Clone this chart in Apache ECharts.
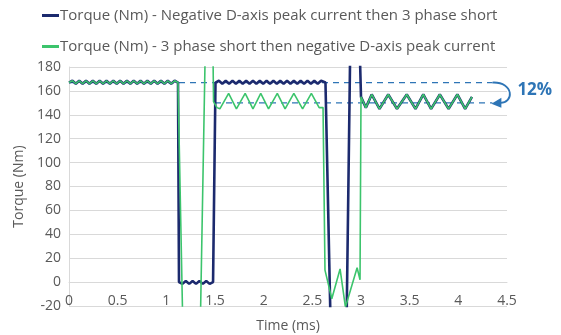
<!DOCTYPE html>
<html lang="en">
<head>
    <meta charset="UTF-8">
    <title>Torque vs time</title>
    <style>
        html, body { margin: 0; padding: 0; background: #fff; }
        #chart { width: 561px; height: 335px; }
    </style>
</head>
<body>
<div id="chart"></div>
<script src="https://cdn.jsdelivr.net/npm/echarts@6/dist/echarts.min.js"></script>
<script>
    // ---- data: [time (ms), torque (Nm)] ----
    var nameNavy = 'Torque (Nm) - Negative D-axis peak current then 3 phase short';
    var nameGreen = 'Torque (Nm) - 3 phase short then negative D-axis peak current';

    // both traces sit on top of each other before the fault
    var startCommon = [[0, 167], [0.035, 168.5], [0.07, 166], [0.105, 168.5], [0.14, 166], [0.175, 168.5], [0.21, 166],
        [0.245, 168.5], [0.28, 166], [0.315, 168.5], [0.35, 166], [0.385, 168.5], [0.42, 166], [0.455, 168.5], [0.49, 166],
        [0.525, 168.5], [0.56, 166], [0.595, 168.5], [0.63, 166], [0.665, 168.5], [0.7, 166], [0.735, 168.5], [0.77, 166],
        [0.805, 168.5], [0.84, 166], [0.875, 168.5], [0.91, 166], [0.945, 168.5], [0.98, 166], [1.015, 168.5], [1.05, 166],
        [1.085, 168.5], [1.12, 167]];

    // and again after 3 ms
    var endCommon = [[3.0, 155], [3.05, 146], [3.11, 157], [3.19, 145], [3.28, 157], [3.37, 145], [3.47, 157], [3.56, 145],
        [3.64, 157], [3.72, 145], [3.81, 157], [3.90, 145], [3.99, 157], [4.07, 145], [4.14, 155]];

    var navyMiddle = [[1.13, 0], [1.165, -1.5], [1.2, 1], [1.235, -1.5], [1.27, 1], [1.305, -1.5], [1.34, 1], [1.375, -1.5],
        [1.41, 1], [1.445, -1.5], [1.48, 0],
        [1.505, 167], [1.54, 168.5], [1.575, 166], [1.61, 168.5], [1.645, 166], [1.68, 168.5], [1.715, 166], [1.75, 168.5],
        [1.785, 166], [1.82, 168.5], [1.855, 166], [1.89, 168.5], [1.925, 166], [1.96, 168.5], [1.995, 166], [2.03, 168.5],
        [2.065, 166], [2.1, 168.5], [2.135, 166], [2.17, 168.5], [2.205, 166], [2.24, 168.5], [2.275, 166], [2.31, 168.5],
        [2.345, 166], [2.38, 168.5], [2.415, 166], [2.45, 168.5], [2.485, 166], [2.52, 168.5], [2.555, 166], [2.59, 168.5],
        [2.635, 167],
        [2.69, -45], [2.85, -45], [2.89, 200], [2.985, 200]];

    var greenMiddle = [[1.13, 167], [1.175, -60], [1.344, -60], [1.401, 200], [1.478, 200], [1.485, 151], [1.52, 146],
        [1.55, 145], [1.64, 158], [1.72, 145], [1.81, 158], [1.89, 145], [1.97, 158], [2.05, 145], [2.14, 158], [2.22, 145],
        [2.31, 158], [2.40, 145], [2.49, 158], [2.57, 146], [2.61, 146],
        [2.63, 10], [2.70, -14], [2.785, 11], [2.84, -21], [2.96, 12], [2.99, 2]];

    var refHigh = [[0, 167], [4.35, 167]];
    var refLow = [[1.5, 150], [4.35, 150]];
    var refLabel = '12%';

    var xTicks = {min: 0, max: 4.5, step: 0.5};
    var yTicks = {min: -20, max: 180, step: 20};

    var navyData = startCommon.concat(navyMiddle, endCommon);
    var greenData = startCommon.concat(greenMiddle, endCommon);

    var FONT = 'Open Sans';
    var GREY = '#595959';
    var NAVY = '#1c2a6e';
    var GREEN = '#3cc46c';
    var BLUE = '#2e75b6';

    var chart = echarts.init(document.getElementById('chart'), null, {renderer: 'canvas'});

    var option = {
        animation: false,
        backgroundColor: '#fff',
        textStyle: {fontFamily: FONT},
        legend: {
            orient: 'vertical',
            left: 37,
            top: 3,
            itemGap: 16,
            itemWidth: 17,
            itemHeight: 3,
            icon: 'rect',
            textStyle: {color: GREY, fontSize: 15, fontFamily: FONT, padding: [0, 0, 0, -4]},
            data: [nameNavy, nameGreen]
        },
        grid: {left: 69, right: 54, top: 67, bottom: 29, containLabel: false, outerBoundsMode: 'none'},
        xAxis: {
            type: 'value',
            min: xTicks.min, max: xTicks.max, interval: xTicks.step,
            // axis sits on the zero line like the original, labels just below it
            offset: -24,
            name: 'Time (ms)',
            nameLocation: 'middle',
            nameGap: 37,
            nameTextStyle: {color: GREY, fontSize: 14, fontFamily: FONT},
            axisLine: {onZero: false, lineStyle: {color: '#d9d9d9'}},
            axisTick: {show: false},
            axisLabel: {color: GREY, fontSize: 14, fontFamily: FONT, margin: 12},
            splitLine: {show: false}
        },
        yAxis: {
            type: 'value',
            min: yTicks.min, max: yTicks.max, interval: yTicks.step,
            name: 'Torque (Nm)',
            nameLocation: 'middle',
            nameGap: 39,
            nameTextStyle: {color: GREY, fontSize: 14, fontFamily: FONT},
            axisLine: {show: true, lineStyle: {color: '#d9d9d9'}},
            axisTick: {show: false},
            axisLabel: {color: GREY, fontSize: 14, fontFamily: FONT, margin: 8},
            splitLine: {lineStyle: {color: '#d9d9d9', width: 1}}
        },
        series: [
            {
                type: 'line', name: 'ref-high', data: refHigh, symbol: 'none', silent: true,
                lineStyle: {color: BLUE, width: 1.3, type: [6, 5]}
            },
            {
                type: 'line', name: 'ref-low', data: refLow, symbol: 'none', silent: true,
                lineStyle: {color: BLUE, width: 1.3, type: [6, 5]}
            },
            {
                type: 'line', name: nameNavy, data: navyData, symbol: 'none',
                color: NAVY, lineStyle: {color: NAVY, width: 2.6}
            },
            {
                type: 'line', name: nameGreen, data: greenData, symbol: 'none',
                color: GREEN, lineStyle: {color: GREEN, width: 1.6}
            }
        ]
    };
    chart.setOption(option);

    // curved arrow between the two reference lines + label
    var pTop = chart.convertToPixel({gridIndex: 0}, refHigh[1]);
    var pBot = chart.convertToPixel({gridIndex: 0}, refLow[1]);
    chart.setOption({
        graphic: [
            {
                type: 'bezierCurve',
                shape: {
                    x1: pTop[0], y1: pTop[1],
                    cpx1: pTop[0] + 22, cpy1: pTop[1] - 1,
                    cpx2: pTop[0] + 22, cpy2: pBot[1] + 1,
                    x2: pBot[0] + 7, y2: pBot[1]
                },
                style: {stroke: BLUE, lineWidth: 1.8, fill: null}
            },
            {
                type: 'polygon',
                shape: {points: [[pBot[0] - 1, pBot[1] + 1], [pBot[0] + 9, pBot[1] - 5], [pBot[0] + 9, pBot[1] + 5]]},
                style: {fill: BLUE}
            },
            {
                type: 'text',
                left: pTop[0] + 25,
                top: (pTop[1] + pBot[1]) / 2 - 11,
                style: {text: refLabel, fill: BLUE, font: 'bold 17px "' + FONT + '"'}
            }
        ]
    });
</script>
</body>
</html>
